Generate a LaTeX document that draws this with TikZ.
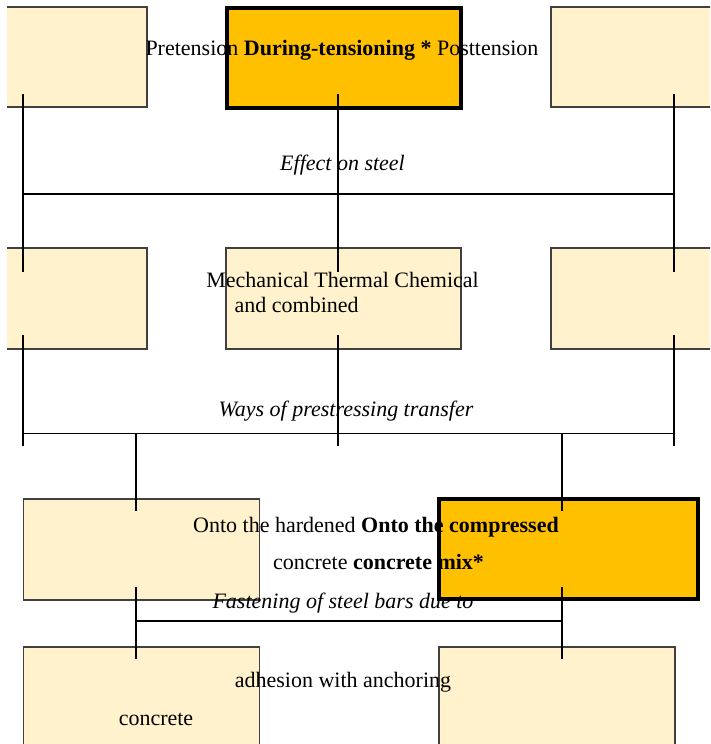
\documentclass[tikz,border=0pt]{standalone}
\usepackage{fontspec}
\setmainfont{Liberation Serif}
\definecolor{paleY}{HTML}{FFF2CC}
\definecolor{gold}{HTML}{FFC000}
\definecolor{edge}{HTML}{404040}
\begin{document}
\begin{tikzpicture}[x=1pt,y=-1pt,
  box/.style={draw=edge, line width=1.4pt, fill=paleY, inner sep=0pt, outer sep=0pt, anchor=north west},
  hot/.style={draw=black, line width=4pt, fill=gold, inner sep=0pt, outer sep=0pt, anchor=north west},
  wire/.style={draw=black, line width=1.2pt},
  lbl/.style={font=\fontsize{22}{26}\selectfont, inner sep=0pt, anchor=base},
  ilbl/.style={lbl, font=\fontsize{22}{26}\selectfont\itshape}]
\useasboundingbox (0,0) rectangle (710,744);
\begin{scope}
\clip (7,0) rectangle (710,744);
% row 1
\node[box, minimum width=160pt, minimum height=100pt] (b11) at (-13,7) {};
\node[hot, minimum width=234.5pt, minimum height=100pt] (b12) at (226.5,8) {};
\node[box, minimum width=180pt, minimum height=100pt] (b13) at (551,7) {};
% row 2
\node[box, minimum width=160pt, minimum height=101pt] (b21) at (-13,248) {};
\node[box, minimum width=235pt, minimum height=101pt] (b22) at (226,248) {};
\node[box, minimum width=180pt, minimum height=101pt] (b23) at (551,248) {};
% row 3
\node[box, minimum width=236pt, minimum height=101pt] (b31) at (23.5,499) {};
\node[hot, minimum width=259pt, minimum height=100pt] (b32) at (439,499) {};
% row 4
\node[box, minimum width=236pt, minimum height=120pt] (b41) at (23.5,647) {};
\node[box, minimum width=236pt, minimum height=120pt] (b42) at (439,647) {};
\end{scope}
% connector points
\coordinate (a1) at (23,94);   \coordinate (a2) at (338,94);   \coordinate (a3) at (674,94);
\coordinate (p1) at (23,194);  \coordinate (p3) at (674,194);
\coordinate (c1) at (23,272);  \coordinate (c2) at (338,272);  \coordinate (c3) at (674,272);
\coordinate (d1) at (23,335);  \coordinate (d2) at (338,335);  \coordinate (d3) at (674,335);
\coordinate (q1) at (23,433.5); \coordinate (q3) at (674,433.5);
\coordinate (q4) at (136,433.5); \coordinate (q5) at (562,433.5);
\coordinate (f1) at (23,446);  \coordinate (f2) at (338,446);  \coordinate (f3) at (674,446);
\coordinate (g1) at (136,511); \coordinate (g2) at (562,511);
\coordinate (h1) at (136,587); \coordinate (h2) at (562,587);
\coordinate (r1) at (136,621); \coordinate (r2) at (562,621);
\coordinate (k1) at (136,659); \coordinate (k2) at (562,659);
% connectors
\draw[wire] (a1) -- (c1);
\draw[wire] (a2) -- (c2);
\draw[wire] (a3) -- (c3);
\draw[wire] (p1) -- (p3);
\draw[wire] (d1) -- (f1);
\draw[wire] (d2) -- (f2);
\draw[wire] (d3) -- (f3);
\draw[wire] (q1) -- (q3);
\draw[wire] (q4) -- (g1);
\draw[wire] (q5) -- (g2);
\draw[wire] (h1) -- (k1);
\draw[wire] (h2) -- (k2);
\draw[wire] (r1) -- (r2);
% texts
\node[lbl] (t1) at (342,55) {Pretension \textbf{During-tensioning *} Posttension};
\node[ilbl] (e1) at (342.5,170) {Effect on steel};
\node[lbl] (t2a) at (342.5,287) {Mechanical Thermal Chemical};
\node[lbl, anchor=base west] (t2b) at (234.5,312) {and combined};
\node[ilbl] (e2) at (346,416) {Ways of prestressing transfer};
\node[lbl] (t3a) at (376,532) {Onto the hardened \textbf{Onto the compressed}};
\node[lbl] (t3b) at (378.5,569) {concrete \textbf{concrete mix*}};
\node[ilbl] (e3) at (343,608) {Fastening of steel bars due to};
\node[lbl] (t4a) at (343,687) {adhesion with anchoring};
\node[lbl] (t4b) at (156,725) {concrete};
\end{tikzpicture}
\end{document}
